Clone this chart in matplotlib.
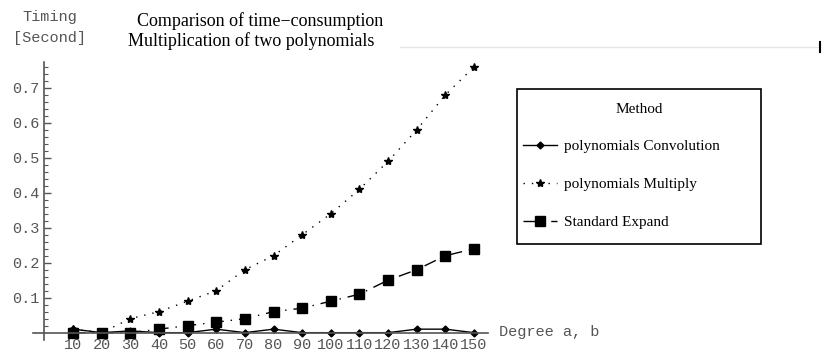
import matplotlib.pyplot as plt
from matplotlib.lines import Line2D
from matplotlib.patches import Rectangle
import numpy as np

# degrees a, b
degree = [10, 20, 30, 40, 50, 60, 70, 80, 90, 100, 110, 120, 130, 140, 150]

# timing in seconds, one list per method
t_convolution = [0.01, 0.0, 0.005, 0.0, 0.0, 0.01, 0.0, 0.01, 0.0, 0.0, 0.0, 0.0, 0.01, 0.01, 0.0]
t_multiply = [0.01, 0.0, 0.04, 0.06, 0.09, 0.12, 0.18, 0.22, 0.28, 0.34, 0.41, 0.49, 0.58, 0.68, 0.76]
t_expand = [0.0, 0.0, 0.0, 0.01, 0.02, 0.03, 0.04, 0.06, 0.07, 0.09, 0.11, 0.15, 0.18, 0.22, 0.24]

labels = ['polynomials Convolution', 'polynomials Multiply', 'Standard Expand']
y_ticks = [0.1, 0.2, 0.3, 0.4, 0.5, 0.6, 0.7]

W, H = 823, 354
fig = plt.figure(figsize=(W / 100, H / 100), dpi=100)

# axes box in pixels: x from 33 to 488, y from 61.7 (top) to 340 (bottom)
ax = fig.add_axes([33 / W, (H - 340) / H, (488 - 33) / W, (340 - 61.7) / H])
ax.set_xlim(-3.98, 154.9)
ax.set_ylim(-0.021, 0.775)

axis_col = '#555555'
mono = 'Liberation Mono'
serif = 'Liberation Serif'
for side in ['top', 'right']:
    ax.spines[side].set_visible(False)
ax.spines['left'].set_position(('data', 0))
ax.spines['bottom'].set_position(('data', 0))
for side in ['left', 'bottom']:
    ax.spines[side].set_color(axis_col)
    ax.spines[side].set_linewidth(1.2)

ax.set_xticks(degree)
ax.set_xticklabels([str(d) for d in degree])
ax.set_yticks(y_ticks)
ax.set_yticklabels([f'{v:.1f}' for v in y_ticks])
ax.set_yticks(np.arange(0.02, 0.78, 0.02), minor=True)
ax.tick_params(axis='both', which='major', direction='in', length=5, width=1,
               color=axis_col, labelcolor='#555555', labelsize=11)
ax.tick_params(axis='y', which='minor', direction='in', length=3, width=0.8, color=axis_col)
ax.tick_params(axis='x', which='major', pad=4, length=3)
for lab in ax.get_xticklabels() + ax.get_yticklabels():
    lab.set_family(mono)

ax.plot(degree, t_convolution, color='black', linewidth=1, marker='D', markersize=3.5,
        label=labels[0], clip_on=False)
ax.plot(degree, t_multiply, color='black', linewidth=1, linestyle=(0, (1, 5)), marker='*',
        markersize=6, label=labels[1], clip_on=False)
ax.plot(degree, t_expand, color='black', linewidth=1, linestyle=(0, (9, 5, 1, 5)), marker='s',
        markersize=7, label=labels[2], clip_on=False)

# legend box drawn separately so the inner padding can be tighter at the sides
box = Rectangle((517 / W, 1 - 244 / H), (761 - 517) / W, (244 - 89) / H,
                transform=fig.transFigure, facecolor='white', edgecolor='black',
                linewidth=1.2, zorder=4, clip_on=False)
ax.add_patch(box)
leg = ax.legend(title='Method', loc='upper left', mode='expand',
                bbox_to_anchor=(517 / W, (H - 100) / H, (761 - 517) / W, 0.01),
                bbox_transform=fig.transFigure, frameon=False, borderpad=0.4,
                labelspacing=1.6, handlelength=2.2, handletextpad=0.45, borderaxespad=0,
                prop={'family': serif, 'size': 11})
leg.get_title().set_family(serif)
leg.get_title().set_fontsize(11)
leg.set_zorder(6)
leg._legend_box.sep = 17

# axis labels, Mathematica style at the axis ends
fig.text(50 / W, 1 - 17 / H, 'Timing', family=mono, fontsize=11,
         color='#555555', ha='center', va='center')
fig.text(50 / W, 1 - 38 / H, '[Second]', family=mono, fontsize=11,
         color='#555555', ha='center', va='center')
fig.text(499 / W, 1 - 332 / H, 'Degree a, b', family=mono, fontsize=11,
         color='#555555', ha='left', va='center')

# two line title
fig.text(137 / W, 1 - 21 / H, 'Comparison of time\u2212consumption', family=serif,
         fontsize=13, ha='left', va='center')
fig.text(128 / W, 1 - 41 / H, 'Multiplication of two polynomials', family=serif,
         fontsize=13, ha='left', va='center')

# faint rule at the top right
fig.add_artist(Line2D([400 / W, 818 / W], [1 - 47 / H, 1 - 47 / H], transform=fig.transFigure,
                      color='#e6e6e6', linewidth=1, zorder=0))
fig.add_artist(Line2D([820 / W, 820 / W], [1 - 42 / H, 1 - 52 / H], transform=fig.transFigure,
                      color='black', linewidth=1.5))

fig.savefig('out.png', dpi=100)
